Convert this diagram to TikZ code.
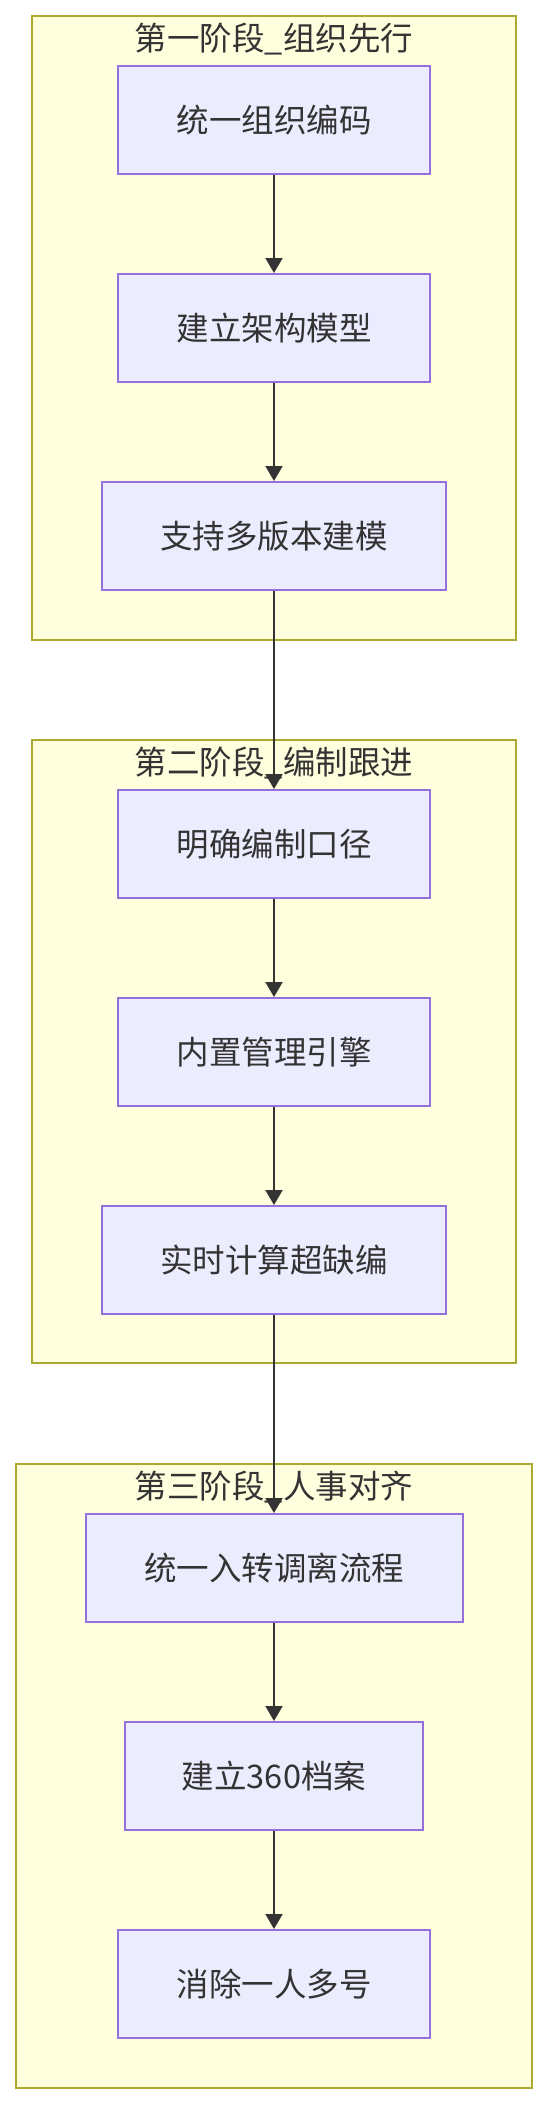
\documentclass[tikz,border=0pt]{standalone}
\usepackage{fontspec}
\setmainfont{Noto Sans CJK SC}
\usetikzlibrary{arrows.meta}
\definecolor{clfill}{HTML}{FFFFDE}
\definecolor{cldraw}{HTML}{AAAA33}
\definecolor{ndfill}{HTML}{ECECFF}
\definecolor{nddraw}{HTML}{9370DB}
\definecolor{txt}{HTML}{333333}
\tikzset{
  clusterbox/.style={fill=clfill,draw=cldraw,line width=2pt},
  clustertitle/.style={text=txt,font=\fontsize{32.5}{38}\selectfont,inner sep=0pt},
  stepbox/.style={fill=ndfill,draw=nddraw,line width=2pt,minimum height=108pt,inner sep=0pt,text=txt,font=\fontsize{32.5}{38}\selectfont},
  flow/.style={draw=txt,line width=2pt,-{Triangle[width=17pt,length=15pt]}}
}
\begin{document}
\begin{tikzpicture}[x=1pt,y=-1pt]
\useasboundingbox (0,0) rectangle (548,2104);
% clusters
\draw[clusterbox] (32,16) rectangle (516,640);
\node[clustertitle] (t1) at (274,39) {第一阶段\_组织先行};
\draw[clusterbox] (32,740) rectangle (516,1363);
\node[clustertitle] (t2) at (274,763) {第二阶段\_编制跟进};
\draw[clusterbox] (16,1464) rectangle (532,2088);
\node[clustertitle] (t3) at (274,1487) {第三阶段\_人事对齐};
% nodes
\node[stepbox,minimum width=312pt] (n1) at (274,120) {统一组织编码};
\node[stepbox,minimum width=312pt] (n2) at (274,328) {建立架构模型};
\node[stepbox,minimum width=344pt] (n3) at (274,536) {支持多版本建模};
\node[stepbox,minimum width=312pt] (n4) at (274,844) {明确编制口径};
\node[stepbox,minimum width=312pt] (n5) at (274,1052) {内置管理引擎};
\node[stepbox,minimum width=344pt] (n6) at (274,1260) {实时计算超缺编};
\node[stepbox,minimum width=377pt] (n7) at (274,1568) {统一入转调离流程};
\node[stepbox,minimum width=298pt] (n8) at (274,1776) {建立360档案};
\node[stepbox,minimum width=312pt] (n9) at (274,1984) {消除一人多号};
% edges
\draw[flow] (n1) -- (n2);
\draw[flow] (n2) -- (n3);
\draw[flow] (n3) -- (n4);
\draw[flow] (n4) -- (n5);
\draw[flow] (n5) -- (n6);
\draw[flow] (n6) -- (n7);
\draw[flow] (n7) -- (n8);
\draw[flow] (n8) -- (n9);
\end{tikzpicture}
\end{document}
